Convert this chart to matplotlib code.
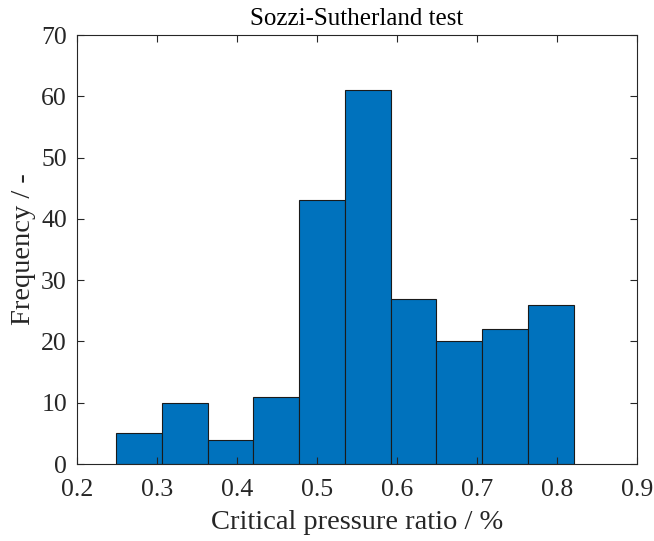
import matplotlib
matplotlib.use("Agg")
import matplotlib.pyplot as plt
import numpy as np

bin_edges = [0.2491 + 0.05718 * i for i in range(11)]
counts = [5, 10, 4, 11, 43, 61, 27, 20, 22, 26]
x_ticks = [0.2, 0.3, 0.4, 0.5, 0.6, 0.7, 0.8, 0.9]
y_ticks = [0, 10, 20, 30, 40, 50, 60, 70]

plt.rcParams['font.family'] = ['Liberation Serif', 'DejaVu Serif']

fig = plt.figure(figsize=(6.54, 5.41), dpi=100)
ax = fig.add_axes([0.1173, 0.1423, 0.974 - 0.1173, 0.9353 - 0.1423])

lefts = np.array(bin_edges[:-1])
widths = np.diff(bin_edges)
ax.bar(lefts, counts, width=widths, align='edge', color='#0072BD',
       edgecolor='#1a1a1a', linewidth=0.8)

ax.set_xlim(0.2, 0.9)
ax.set_ylim(0, 70)
ax.set_xticks(x_ticks)
ax.set_xticklabels([f"{t:.1f}" for t in x_ticks])
ax.set_yticks(y_ticks)
ax.tick_params(direction='in', top=True, right=True, labelsize=18.5, length=5,
               width=0.8, colors='#262626')
ax.tick_params(axis='x', pad=11)
ax.tick_params(axis='y', pad=7)
for s in ax.spines.values():
    s.set_linewidth(0.8)
    s.set_color('#262626')

ax.set_xlabel('Critical pressure ratio / %', fontsize=20.5, color='#262626', labelpad=6)
ax.set_ylabel('Frequency / -', fontsize=20.5, color='#262626', labelpad=4)
ax.set_title('Sozzi-Sutherland test', fontsize=18, color='black', pad=7)

fig.savefig('out.png', dpi=100)
